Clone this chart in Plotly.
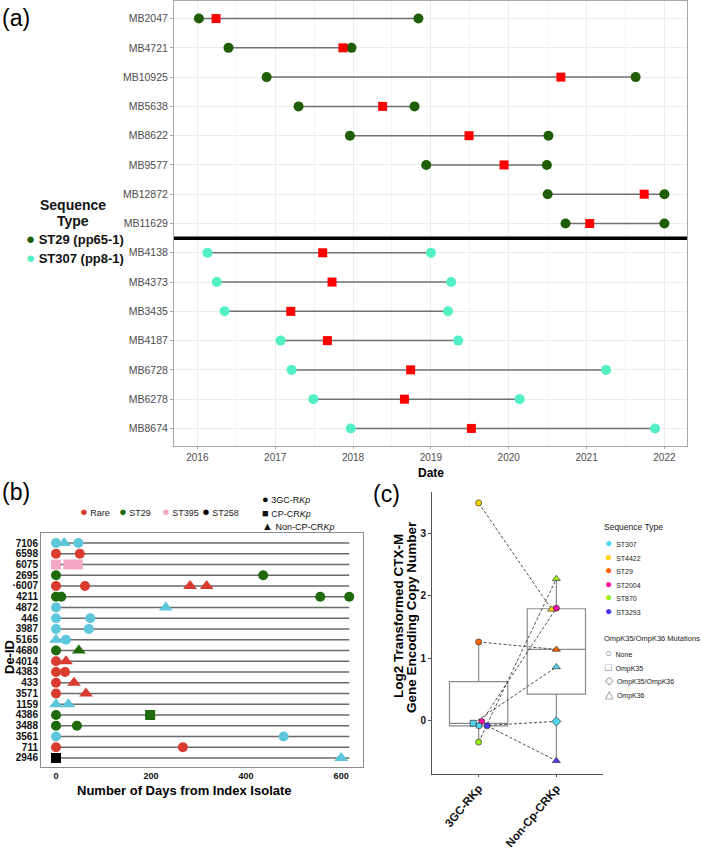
import plotly.graph_objects as go
import numpy as np

W, H = 701, 850
FONT = "Liberation Sans, Arial, Helvetica, sans-serif"


def px(x):
    return x / W


def py(y):
    return 1 - y / H


# ---------------- panel (a): isolate timelines ----------------
isolates_a = ['MB2047', 'MB4721', 'MB10925', 'MB5638', 'MB8622', 'MB9577', 'MB12872', 'MB11629',
              'MB4138', 'MB4373', 'MB3435', 'MB4187', 'MB6728', 'MB6278', 'MB8674']
st_a = ['ST29'] * 8 + ['ST307'] * 7
first_a = [2016.02, 2016.40, 2016.89, 2017.30, 2017.96, 2018.94, 2020.50, 2020.73,
           2016.13, 2016.25, 2016.35, 2017.07, 2017.21, 2017.49, 2017.97]
mid_a = [2016.24, 2017.87, 2020.67, 2018.38, 2019.49, 2019.94, 2021.74, 2021.04,
         2017.61, 2017.73, 2017.20, 2017.67, 2018.74, 2018.66, 2019.52]
last_a = [2018.84, 2017.98, 2021.63, 2018.79, 2020.51, 2020.49, 2022.00, 2022.00,
          2019.00, 2019.26, 2019.22, 2019.35, 2021.25, 2020.14, 2021.88]
years_a = [2016, 2017, 2018, 2019, 2020, 2021, 2022]
st_legend_a = ['ST29', 'ST307']
st_names_a = {'ST29': 'ST29 (pp65-1)', 'ST307': 'ST307 (pp8-1)'}
st_colors_a = {'ST29': '#1f5e06', 'ST307': '#52f0c4'}

# ---------------- panel (b): days from index isolate ----------------
ids_b = ['7106', '6598', '6075', '2695', '·6007', '4211', '4872', '446', '3987', '5165', '4680',
         '4014', '4383', '433', '3571', '1159', '4386', '3488', '3561', '711', '2946']
pt_id_b = ['7106', '7106', '7106', '6598', '6598', '6075', '6075', '6075', '2695', '2695',
           '·6007', '·6007', '·6007', '·6007', '4211', '4211', '4211', '4211', '4872', '4872',
           '446', '446', '3987', '3987', '5165', '5165', '4680', '4680', '4014', '4014',
           '4383', '4383', '433', '433', '3571', '3571', '1159', '1159', '4386', '4386',
           '3488', '3488', '3561', '3561', '711', '711', '2946', '2946']
pt_day_b = [0, 17, 47, 0, 50, 0, 26, 46, 0, 436,
            0, 61, 282, 317, 0, 11, 556, 617, 0, 231,
            0, 72, 0, 69, 0, 21, 0, 48, 0, 21,
            0, 19, 0, 38, 0, 63, 0, 26, 0, 198,
            0, 44, 0, 479, 0, 267, 0, 600]
pt_st_b = ['ST307', 'ST307', 'ST307', 'Rare', 'Rare', 'ST395', 'ST395', 'ST395', 'ST29', 'ST29',
           'Rare', 'Rare', 'Rare', 'Rare', 'ST29', 'ST29', 'ST29', 'ST29', 'ST307', 'ST307',
           'ST307', 'ST307', 'ST307', 'ST307', 'ST307', 'ST307', 'ST29', 'ST29', 'Rare', 'Rare',
           'Rare', 'Rare', 'Rare', 'Rare', 'Rare', 'Rare', 'ST307', 'ST307', 'ST29', 'ST29',
           'ST29', 'ST29', 'ST307', 'ST307', 'Rare', 'Rare', 'ST258', 'ST307']
pt_kind_b = ['3GC', 'NonCP', '3GC', '3GC', '3GC', 'CP', 'CP', 'CP', '3GC', '3GC',
             '3GC', '3GC', 'NonCP', 'NonCP', '3GC', '3GC', '3GC', '3GC', '3GC', 'NonCP',
             '3GC', '3GC', '3GC', '3GC', 'NonCP', '3GC', '3GC', 'NonCP', '3GC', 'NonCP',
             '3GC', '3GC', '3GC', 'NonCP', '3GC', 'NonCP', 'NonCP', 'NonCP', '3GC', 'CP',
             '3GC', '3GC', '3GC', '3GC', '3GC', '3GC', 'CP', 'NonCP']
st_legend_b = ['Rare', 'ST29', 'ST395', 'ST258']
kind_legend_b = ['3GC-RKp', 'CP-CRKp', 'Non-CP-CRKp']
st_colors_b = {'Rare': '#d93b2f', 'ST29': '#1f6a0c', 'ST395': '#f5a8c6', 'ST258': '#000000',
               'ST307': '#5ec6da'}
kind_symbols_b = {'3GC': 'circle', 'CP': 'square', 'NonCP': 'triangle-up'}
xticks_b = [0, 200, 400, 600]

# ---------------- panel (c): CTX-M copy number ----------------
groups_c = ['3GC-RKp', 'Non-Cp-CRKp']
st_c = ['ST4422', 'ST29', 'ST870', 'ST2004', 'ST307', 'ST307', 'ST3293']
val_3gc = [3.48, 1.26, -0.34, -0.01, -0.04, -0.08, -0.08]
val_non = [1.78, 1.14, 2.27, 1.80, 0.86, -0.01, -0.64]
mut_3gc = ['None', 'None', 'None', 'None', 'OmpK35', 'None', 'None']
mut_non = ['OmpK36', 'OmpK36', 'OmpK36', 'None', 'OmpK36', 'OmpK35/OmpK36', 'OmpK36']
jit_3gc = [0.0, 0.0, 0.0, 0.04, -0.07, 0.005, 0.11]
jit_non = [-0.06, 0.0, 0.0, 0.0, 0.0, 0.0, 0.0]
st_legend_c = ['ST307', 'ST4422', 'ST29', 'ST2004', 'ST870', 'ST3293']
mut_legend_c = ['None', 'OmpK35', 'OmpK35/OmpK36', 'OmpK36']
st_colors_c = {'ST307': '#4fd6ee', 'ST4422': '#ffd400', 'ST29': '#ff6200', 'ST2004': '#ff0fa6',
               'ST870': '#9cef19', 'ST3293': '#4c34f2'}
mut_symbols_c = {'None': 'circle', 'OmpK35': 'square', 'OmpK35/OmpK36': 'diamond',
                 'OmpK36': 'triangle-up'}
mut_glyph_c = {'None': '○', 'OmpK35': '□', 'OmpK35/OmpK36': '◇', 'OmpK36': '△'}

fig = go.Figure()

# ---- (a) ----
seg_x, seg_y = [], []
for iso, a, b in zip(isolates_a, first_a, last_a):
    seg_x += [a, b, None]
    seg_y += [iso, iso, None]
fig.add_trace(go.Scatter(x=seg_x, y=seg_y, mode='lines', line=dict(color='#707070', width=1.5),
                         hoverinfo='skip', xaxis='x', yaxis='y'))
for st in st_legend_a:
    idx = [i for i, s in enumerate(st_a) if s == st]
    fig.add_trace(go.Scatter(
        x=[first_a[i] for i in idx] + [last_a[i] for i in idx],
        y=[isolates_a[i] for i in idx] * 2,
        mode='markers', name=st_names_a[st],
        marker=dict(color=st_colors_a[st], size=10, opacity=1),
        xaxis='x', yaxis='y'))
fig.add_trace(go.Scatter(x=mid_a, y=isolates_a, mode='markers',
                         marker=dict(symbol='square', color='#ff0000', size=9, opacity=1),
                         xaxis='x', yaxis='y'))

# ---- (b) ----
maxday = max(pt_day_b)
row_x, row_y = [], []
for i in ids_b:
    row_x += [0, maxday, None]
    row_y += [i, i, None]
fig.add_trace(go.Scatter(x=row_x, y=row_y, mode='lines', line=dict(color='#6a6a6a', width=1.6),
                         hoverinfo='skip', xaxis='x2', yaxis='y2'))
fig.add_trace(go.Scatter(
    x=pt_day_b, y=pt_id_b, mode='markers',
    marker=dict(color=[st_colors_b[s] for s in pt_st_b],
                symbol=[kind_symbols_b[k] for k in pt_kind_b],
                size=[12 if k == 'NonCP' else 10 for k in pt_kind_b],
                opacity=1, line=dict(width=0)),
    xaxis='x2', yaxis='y2'))

# ---- (c) ----
allv = {groups_c[0]: val_3gc, groups_c[1]: val_non}
for gi, g in enumerate(groups_c):
    v = np.array(allv[g])
    q1, med, q3 = np.percentile(v, [25, 50, 75])
    iqr = q3 - q1
    lf = v[v >= q1 - 1.5 * iqr].min()
    uf = v[v <= q3 + 1.5 * iqr].max()
    fig.add_trace(go.Box(x=[gi + 1], q1=[q1], median=[med], q3=[q3], lowerfence=[lf],
                         upperfence=[uf], width=0.75, whiskerwidth=0,
                         line=dict(color='#8a8a8a', width=1.2), fillcolor='rgba(0,0,0,0)',
                         hoverinfo='skip', xaxis='x3', yaxis='y3'))
dx, dy = [], []
for a, b, ja, jb in zip(val_3gc, val_non, jit_3gc, jit_non):
    dx += [1 + ja, 2 + jb, None]
    dy += [a, b, None]
fig.add_trace(go.Scatter(x=dx, y=dy, mode='lines',
                         line=dict(color='#3a3a3a', width=0.9, dash='3px,2px'),
                         hoverinfo='skip', xaxis='x3', yaxis='y3'))
fig.add_trace(go.Scatter(
    x=[1 + j for j in jit_3gc] + [2 + j for j in jit_non],
    y=val_3gc + val_non, mode='markers',
    marker=dict(color=[st_colors_c[s] for s in st_c] * 2,
                symbol=[mut_symbols_c[m] for m in mut_3gc + mut_non],
                size=[6 if m in ('None', 'OmpK35') else 7 for m in mut_3gc + mut_non],
                opacity=1, line=dict(color='#333333', width=0.7)),
    xaxis='x3', yaxis='y3'))

# ---- annotations (panel letters, axis titles, legends) ----
ann = []


def note(text, x, y, size, bold=False, color='#000000', xanchor='center', angle=0):
    ann.append(dict(text=text, x=px(x), y=py(y), xref='paper', yref='paper', showarrow=False,
                    xanchor=xanchor, yanchor='middle', textangle=angle,
                    font=dict(size=size, color=color, family=FONT,
                              weight='bold' if bold else 'normal')))


note('(a)', 16, 18, 23)
note('(b)', 16, 492, 23)
note('(c)', 386, 494, 23)
note('Date', 431, 473, 12, bold=True)
note('Number of Days from Index Isolate', 184, 790, 13, bold=True)
note('De-ID', 9, 657, 13, bold=True, angle=-90)
note('Log2 Transformed CTX-M', 398, 616, 13.5, bold=True, angle=-90)
note('Gene Encoding Copy Number', 411, 617, 13.5, bold=True, angle=-90)

note('Sequence', 73, 205, 14, bold=True, color='#111111')
note('Type', 73, 221, 14, bold=True, color='#111111')
for i, st in enumerate(st_legend_a):
    note("<span style='color:%s;font-size:15px'>●</span> %s" % (st_colors_a[st], st_names_a[st]),
         24, 238 + i * 20, 13, bold=True, color='#111111', xanchor='left')

for lab, x in zip(st_legend_b, [78, 117, 160, 200]):
    note("<span style='color:%s;font-size:13px'>●</span> %s" % (st_colors_b[lab], lab),
         x, 512, 9, color='#222222', xanchor='left')
for lab, g, y in zip(kind_legend_b, ['●', '■', '▲'], [499, 513, 526]):
    note("<span style='font-size:11px'>%s</span> %s" % (g, lab.replace('Kp', '<i>Kp</i>')),
         260, y, 9, color='#111111', xanchor='left')

note('Sequence Type', 602, 527, 8.5, color='#222222', xanchor='left')
for i, lab in enumerate(st_legend_c):
    note("<span style='color:%s;font-size:12px'>●</span>  %s" % (st_colors_c[lab], lab),
         603, 543 + i * 13.5, 7, color='#222222', xanchor='left')
note('OmpK35/OmpK36 Mutations', 602, 638, 7.5, color='#222222', xanchor='left')
for i, lab in enumerate(mut_legend_c):
    note("<span style='color:#777777;font-size:11px'>%s</span>  %s" % (mut_glyph_c[lab], lab),
         603, 653 + i * 13.5, 7, color='#222222', xanchor='left')

fig.update_layout(
    width=W, height=H, margin=dict(l=0, r=0, t=0, b=0),
    paper_bgcolor='white', plot_bgcolor='white',
    font=dict(family=FONT, color='#222222'),
    showlegend=False,
    annotations=ann,
    shapes=[dict(type='line', xref='x domain', yref='y', x0=0, x1=1, y0=7.5, y1=7.5,
                 line=dict(color='black', width=3.5))],
    xaxis=dict(domain=[px(174), px(687)], range=[2015.70, 2022.29], tickvals=years_a,
               showgrid=True, gridcolor='#e9eeea', gridwidth=1,
               minor=dict(dtick=0.5, showgrid=True, gridcolor='#f3f6f3', gridwidth=0.8),
               showline=True, linecolor='#a8a8a8', mirror=True, zeroline=False,
               ticks='outside', ticklen=2, tickcolor='#a8a8a8',
               tickfont=dict(size=10, color='#4d4d4d'), automargin=False, anchor='y'),
    yaxis=dict(domain=[py(446), py(1)], type='category', categoryorder='array',
               categoryarray=isolates_a, range=[14.6, -0.6],
               showgrid=True, gridcolor='#e9eeea', gridwidth=1,
               showline=True, linecolor='#a8a8a8', mirror=True, zeroline=False,
               ticks='outside', ticklen=3, tickcolor='#a8a8a8',
               tickfont=dict(size=10.5, color='#4d4d4d'), automargin=False, anchor='x'),
    xaxis2=dict(domain=[px(41), px(363)], range=[-31.6, 646], tickvals=xticks_b,
                showgrid=False, zeroline=False, showline=True, linecolor='#8c8c8c', mirror=True,
                ticks='', tickfont=dict(size=9, color='#111111', weight='bold'),
                automargin=False, anchor='y2'),
    yaxis2=dict(domain=[py(767), py(533)], type='category', categoryorder='array',
                categoryarray=ids_b, range=[20.84, -0.93], tickmode='linear', tick0=0, dtick=1,
                showgrid=False, zeroline=False,
                showline=True, linecolor='#8c8c8c', mirror=True, ticks='',
                tickfont=dict(size=10, color='#111111', weight='bold'),
                automargin=False, anchor='x2'),
    xaxis3=dict(domain=[px(432), px(603)], type='linear', range=[0.4, 2.6], tickvals=[1, 2],
                ticktext=groups_c, tickangle=-50, showgrid=False, zeroline=False,
                showline=True, linecolor='#555555', ticks='outside', ticklen=2,
                tickcolor='#555555', tickfont=dict(size=11.5, color='#111111', weight='bold'),
                automargin=False, anchor='y3'),
    yaxis3=dict(domain=[py(774), py(491.7)], range=[-0.85, 3.66], tickvals=[0, 1, 2, 3],
                showgrid=False, zeroline=False, showline=True, linecolor='#555555',
                ticks='outside', ticklen=3, tickcolor='#555555',
                tickfont=dict(size=10, color='#111111', weight='bold'),
                automargin=False, anchor='x3'),
)

# the page body has an 8px default margin; remove it so the figure sits at the window origin
fig.write_html("out.html", config={'displayModeBar': False},
               post_script="document.body.style.margin='0';")
